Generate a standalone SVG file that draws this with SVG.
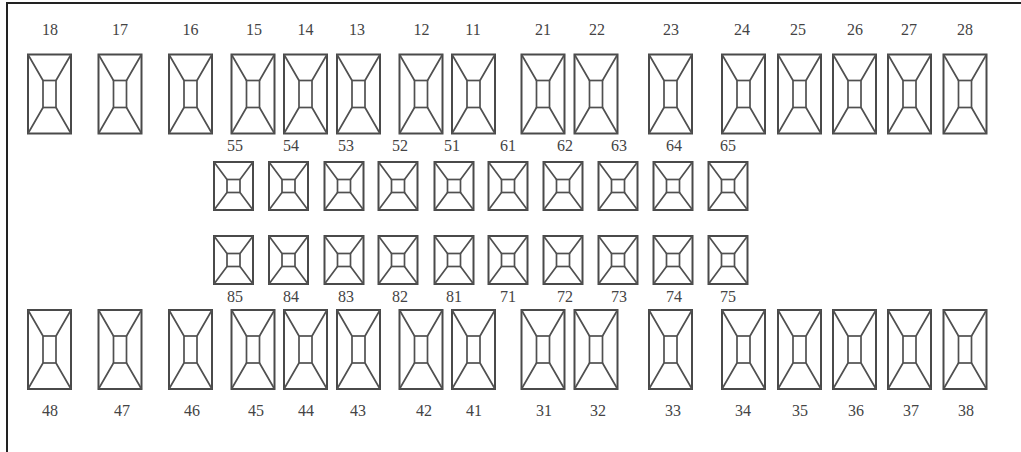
<svg xmlns="http://www.w3.org/2000/svg" xmlns:xlink="http://www.w3.org/1999/xlink" width="1021" height="452" viewBox="0 0 1021 452">
<style>
.o{fill:none;stroke:#4a4a4a;stroke-width:2}
.i{fill:none;stroke:#505050;stroke-width:1.7}
.t{font-family:"Liberation Serif","Times New Roman",serif;font-size:16px;fill:#444;text-anchor:middle}
</style>
<defs>
<g id="pt">
<rect class="o" x="0" y="0" width="43" height="79"/>
<rect class="i" x="15" y="26" width="13" height="27"/>
<path class="i" d="M0,0L15,26M43,0L28,26M0,79L15,53M43,79L28,53"/>
</g>
<g id="dt">
<rect class="o" x="0" y="0" width="39" height="48"/>
<rect class="i" x="13" y="17.5" width="13" height="13"/>
<path class="i" d="M0,0L13,17.5M39,0L26,17.5M0,48L13,30.5M39,48L26,30.5"/>
</g>
</defs>
<rect x="0" y="0" width="1021" height="452" fill="#fff"/>
<g id="frame"><path d="M7,452V3H1021" fill="none" stroke="#222" stroke-width="2"/></g>
<g id="connectors"/>
<g id="upper-permanent">
<g id="t18"><use xlink:href="#pt" x="28" y="54.5"/><text class="t" x="50" y="35">18</text></g>
<g id="t17"><use xlink:href="#pt" x="98.5" y="54.5"/><text class="t" x="120" y="35">17</text></g>
<g id="t16"><use xlink:href="#pt" x="169" y="54.5"/><text class="t" x="190.5" y="35">16</text></g>
<g id="t15"><use xlink:href="#pt" x="231.5" y="54.5"/><text class="t" x="254" y="35">15</text></g>
<g id="t14"><use xlink:href="#pt" x="284" y="54.5"/><text class="t" x="305.5" y="35">14</text></g>
<g id="t13"><use xlink:href="#pt" x="337" y="54.5"/><text class="t" x="357" y="35">13</text></g>
<g id="t12"><use xlink:href="#pt" x="399.5" y="54.5"/><text class="t" x="421.5" y="35">12</text></g>
<g id="t11"><use xlink:href="#pt" x="452" y="54.5"/><text class="t" x="473" y="35">11</text></g>
<g id="t21"><use xlink:href="#pt" x="521.5" y="54.5"/><text class="t" x="543" y="35">21</text></g>
<g id="t22"><use xlink:href="#pt" x="574.5" y="54.5"/><text class="t" x="597" y="35">22</text></g>
<g id="t23"><use xlink:href="#pt" x="649" y="54.5"/><text class="t" x="671" y="35">23</text></g>
<g id="t24"><use xlink:href="#pt" x="722" y="54.5"/><text class="t" x="742" y="35">24</text></g>
<g id="t25"><use xlink:href="#pt" x="778" y="54.5"/><text class="t" x="798" y="35">25</text></g>
<g id="t26"><use xlink:href="#pt" x="833" y="54.5"/><text class="t" x="855" y="35">26</text></g>
<g id="t27"><use xlink:href="#pt" x="888" y="54.5"/><text class="t" x="909" y="35">27</text></g>
<g id="t28"><use xlink:href="#pt" x="943.5" y="54.5"/><text class="t" x="965" y="35">28</text></g>
</g>
<g id="upper-primary">
<g id="t55"><use xlink:href="#dt" x="214" y="162"/><text class="t" x="235" y="151">55</text></g>
<g id="t54"><use xlink:href="#dt" x="269" y="162"/><text class="t" x="291" y="151">54</text></g>
<g id="t53"><use xlink:href="#dt" x="324.5" y="162"/><text class="t" x="346" y="151">53</text></g>
<g id="t52"><use xlink:href="#dt" x="378.5" y="162"/><text class="t" x="400" y="151">52</text></g>
<g id="t51"><use xlink:href="#dt" x="434.5" y="162"/><text class="t" x="452" y="151">51</text></g>
<g id="t61"><use xlink:href="#dt" x="488.5" y="162"/><text class="t" x="508" y="151">61</text></g>
<g id="t62"><use xlink:href="#dt" x="543.5" y="162"/><text class="t" x="565" y="151">62</text></g>
<g id="t63"><use xlink:href="#dt" x="598.5" y="162"/><text class="t" x="619" y="151">63</text></g>
<g id="t64"><use xlink:href="#dt" x="653.5" y="162"/><text class="t" x="674" y="151">64</text></g>
<g id="t65"><use xlink:href="#dt" x="708.5" y="162"/><text class="t" x="728" y="151">65</text></g>
</g>
<g id="lower-primary">
<g id="t85"><use xlink:href="#dt" x="214" y="236"/><text class="t" x="235" y="302">85</text></g>
<g id="t84"><use xlink:href="#dt" x="269" y="236"/><text class="t" x="291" y="302">84</text></g>
<g id="t83"><use xlink:href="#dt" x="324.5" y="236"/><text class="t" x="346" y="302">83</text></g>
<g id="t82"><use xlink:href="#dt" x="378.5" y="236"/><text class="t" x="400" y="302">82</text></g>
<g id="t81"><use xlink:href="#dt" x="434.5" y="236"/><text class="t" x="454" y="302">81</text></g>
<g id="t71"><use xlink:href="#dt" x="488.5" y="236"/><text class="t" x="508" y="302">71</text></g>
<g id="t72"><use xlink:href="#dt" x="543.5" y="236"/><text class="t" x="565" y="302">72</text></g>
<g id="t73"><use xlink:href="#dt" x="598.5" y="236"/><text class="t" x="619" y="302">73</text></g>
<g id="t74"><use xlink:href="#dt" x="653.5" y="236"/><text class="t" x="674" y="302">74</text></g>
<g id="t75"><use xlink:href="#dt" x="708.5" y="236"/><text class="t" x="728" y="302">75</text></g>
</g>
<g id="lower-permanent">
<g id="t48"><use xlink:href="#pt" x="28" y="310"/><text class="t" x="50" y="416">48</text></g>
<g id="t47"><use xlink:href="#pt" x="98.5" y="310"/><text class="t" x="122" y="416">47</text></g>
<g id="t46"><use xlink:href="#pt" x="169" y="310"/><text class="t" x="192" y="416">46</text></g>
<g id="t45"><use xlink:href="#pt" x="231.5" y="310"/><text class="t" x="256" y="416">45</text></g>
<g id="t44"><use xlink:href="#pt" x="284" y="310"/><text class="t" x="306" y="416">44</text></g>
<g id="t43"><use xlink:href="#pt" x="337" y="310"/><text class="t" x="358" y="416">43</text></g>
<g id="t42"><use xlink:href="#pt" x="399.5" y="310"/><text class="t" x="424" y="416">42</text></g>
<g id="t41"><use xlink:href="#pt" x="452" y="310"/><text class="t" x="474" y="416">41</text></g>
<g id="t31"><use xlink:href="#pt" x="521.5" y="310"/><text class="t" x="544" y="416">31</text></g>
<g id="t32"><use xlink:href="#pt" x="574.5" y="310"/><text class="t" x="598" y="416">32</text></g>
<g id="t33"><use xlink:href="#pt" x="649" y="310"/><text class="t" x="673" y="416">33</text></g>
<g id="t34"><use xlink:href="#pt" x="722" y="310"/><text class="t" x="743" y="416">34</text></g>
<g id="t35"><use xlink:href="#pt" x="778" y="310"/><text class="t" x="800" y="416">35</text></g>
<g id="t36"><use xlink:href="#pt" x="833" y="310"/><text class="t" x="856" y="416">36</text></g>
<g id="t37"><use xlink:href="#pt" x="888" y="310"/><text class="t" x="911" y="416">37</text></g>
<g id="t38"><use xlink:href="#pt" x="943.5" y="310"/><text class="t" x="966" y="416">38</text></g>
</g>
</svg>
